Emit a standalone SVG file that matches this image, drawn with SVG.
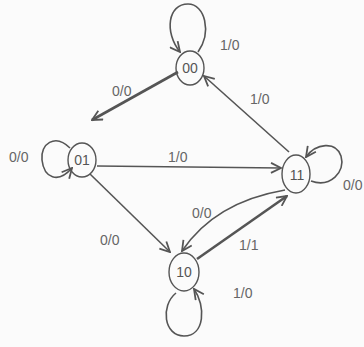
<svg xmlns="http://www.w3.org/2000/svg" width="364" height="347" viewBox="0 0 364 347">
<defs>
<style>
.node{fill:none;stroke:#555;stroke-width:1.4}
.edge{fill:none;stroke:#555;stroke-width:1.6}
.thick{stroke-width:2.6}
.lbl{font-family:"Liberation Sans",Arial,sans-serif;font-size:14px;fill:#666}
.st{font-family:"Liberation Sans",Arial,sans-serif;font-size:14px;fill:#555;text-anchor:middle}
</style>
<marker id="arr" viewBox="0 0 12 12" refX="11" refY="6" markerWidth="12" markerHeight="12" markerUnits="userSpaceOnUse" orient="auto">
<path d="M1,1 L11,6 L1,11" fill="none" stroke="#555" stroke-width="1.8"/>
</marker>
</defs>
<rect width="364" height="347" fill="#fbfbfb"/>
<g id="connectors">
<path class="edge thick" d="M178,72 L92,120" marker-end="url(#arr)"/>
<path class="edge" d="M289,152 L204,76" marker-end="url(#arr)"/>
<path class="edge" d="M97,166 L281,168" marker-end="url(#arr)"/>
<path class="edge" d="M90,174 L170,252" marker-end="url(#arr)"/>
<path class="edge" d="M285,190 Q215,202 182,251" marker-end="url(#arr)"/>
<path class="edge thick" d="M197,259 L287,196" marker-end="url(#arr)"/>
<path class="edge" d="M198,52 C212,32 205,4 188,4 C168,4 164,32 180,52" marker-end="url(#arr)"/>
<path class="edge" d="M70,148 C55,133 40,144 42,160 C44,178 58,184 72,168" marker-end="url(#arr)"/>
<path class="edge" d="M311,181 C330,188 346,172 341,156 C336,141 316,143 306,157" marker-end="url(#arr)"/>
<path class="edge" d="M176,293 C160,306 164,336 184,336 C205,336 206,306 194,289" marker-end="url(#arr)"/>
</g>
<g id="s00"><ellipse class="node" cx="190" cy="68" rx="14" ry="17"/><text class="st" x="190" y="73">00</text></g>
<g id="s01"><ellipse class="node" cx="82" cy="160" rx="14" ry="17"/><text class="st" x="82" y="165">01</text></g>
<g id="s11"><ellipse class="node" cx="296" cy="174" rx="14" ry="19"/><text class="st" x="297" y="180">11</text></g>
<g id="s10"><ellipse class="node" cx="184" cy="272" rx="15" ry="19"/><text class="st" x="184" y="277">10</text></g>
<g id="labels">
<text class="lbl" x="220" y="50">1/0</text>
<text class="lbl" x="112" y="96">0/0</text>
<text class="lbl" x="250" y="104">1/0</text>
<text class="lbl" x="9" y="162">0/0</text>
<text class="lbl" x="168" y="162">1/0</text>
<text class="lbl" x="343" y="190">0/0</text>
<text class="lbl" x="192" y="218">0/0</text>
<text class="lbl" x="239" y="250">1/1</text>
<text class="lbl" x="100" y="245">0/0</text>
<text class="lbl" x="233" y="298">1/0</text>
</g>
</svg>
